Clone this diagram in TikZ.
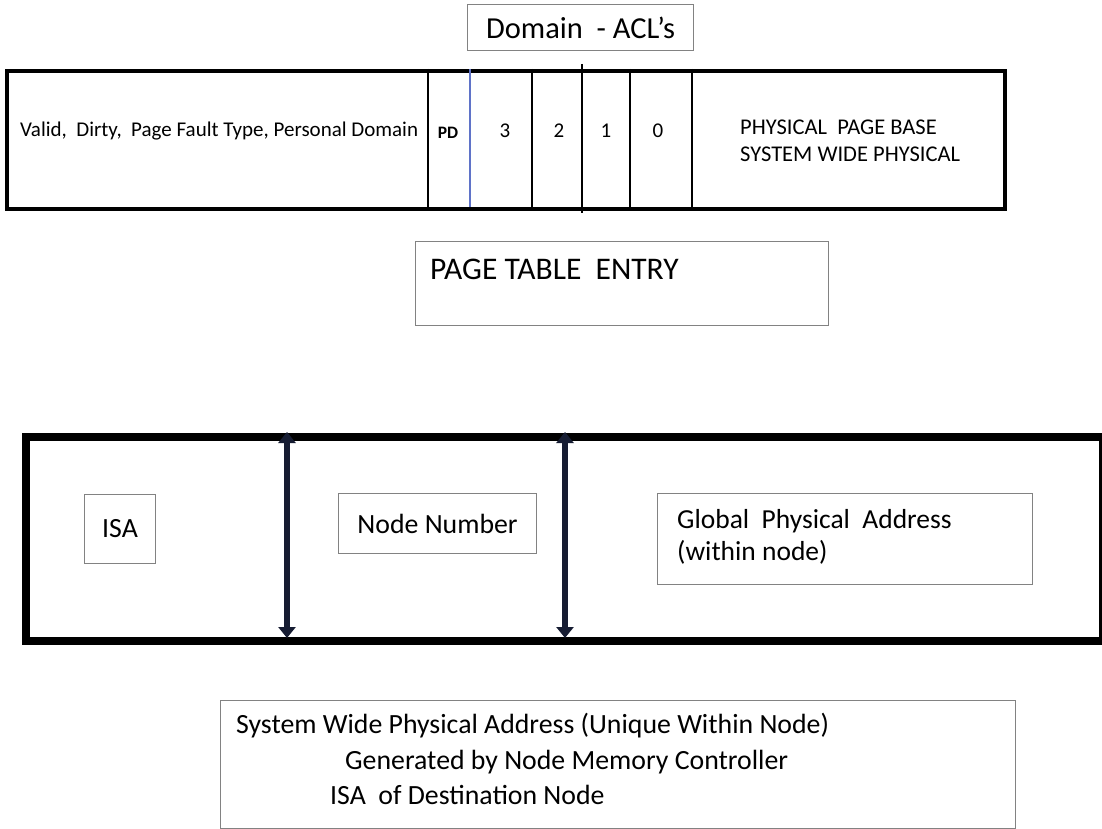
\documentclass[tikz,border=0pt]{standalone}
\usepackage{fontspec}
\setmainfont{Carlito}
\usetikzlibrary{arrows.meta}
\definecolor{navy}{RGB}{22,28,50}
\definecolor{divblue}{RGB}{95,115,200}
\definecolor{boxgray}{RGB}{130,130,130}
\begin{document}
\begin{tikzpicture}[x=1pt,y=-1pt,
  frame/.style={draw=black,line width=4pt,inner sep=0pt,anchor=north west},
  bigframe/.style={draw=black,line width=7.5pt,inner sep=0pt,anchor=north west},
  tbox/.style={draw=boxgray,line width=1.1pt,inner sep=0pt,anchor=north west},
  col/.style={draw=black,line width=1.6pt},
  small/.style={inner sep=0pt,font=\fontsize{21}{25}\selectfont},
  big/.style={inner sep=0pt,font=\fontsize{27.8}{32}\selectfont},
  dbl/.style={draw=navy,line width=6pt,{Triangle[width=17pt,length=11pt]}-{Triangle[width=17pt,length=11pt]},shorten <=-1pt,shorten >=-1pt}
]
\useasboundingbox (0,0) rectangle (1102,829);

% ---- page table entry ----
\node[tbox,minimum width=226pt,minimum height=46pt] (dom) at (467,4) {};
\node[inner sep=0pt,font=\fontsize{30.5}{34}\selectfont] (domt) at (dom.center) {Domain~~- ACL’s};

\node[frame,minimum width=998pt,minimum height=138pt] (pte) at (5,69) {};
\draw[col] (428,69) -- (428,207);
\draw[draw=divblue,line width=1.3pt] (470,69) -- (470,207);
\draw[col] (532,69) -- (532,207);
\draw[col] (582,64) -- (582,213);
\draw[col] (630,69) -- (630,207);
\draw[col] (692,69) -- (692,207);

\node[small,anchor=west] (flags) at (20,131) {Valid,~~Dirty,~~Page Fault Type, Personal Domain};
\node[inner sep=0pt,font=\fontsize{17.5}{20}\selectfont\bfseries] (pd) at (448,133) {PD};
\node[small] (d3) at (505,131) {3};
\node[small] (d2) at (559,131) {2};
\node[small] (d1) at (606,131) {1};
\node[small] (d0) at (658,131) {0};
\node[small,anchor=west,align=left,font=\fontsize{22.5}{27}\selectfont] (ppb) at (740,141) {PHYSICAL~~PAGE BASE\\SYSTEM WIDE PHYSICAL};

\node[tbox,minimum width=413pt,minimum height=84pt] (ptebox) at (415,241) {};
\node[inner sep=0pt,font=\fontsize{31.5}{36}\selectfont,anchor=west] (ptet) at (430,269) {PAGE TABLE~~ENTRY};

% ---- address layout ----
\node[bigframe,minimum width=1077pt,minimum height=204pt] (addr) at (22,433) {};

\coordinate (a1t) at (287,433);
\coordinate (a1b) at (287,637);
\coordinate (a2t) at (565,433);
\coordinate (a2b) at (565,637);
\draw[dbl] (a1t) -- (a1b);
\draw[dbl] (a2t) -- (a2b);

\node[tbox,minimum width=71pt,minimum height=69pt] (isa) at (84,494) {};
\node[big] (isat) at (isa.center) {ISA};

\node[tbox,minimum width=198pt,minimum height=60pt] (nn) at (338,493) {};
\node[big] (nnt) at (nn.center) {Node Number};

\node[tbox,minimum width=375pt,minimum height=91pt] (gpa) at (657,493) {};
\node[big,anchor=west,align=left,font=\fontsize{27.5}{32}\selectfont] (gpat) at (677,537) {Global~~Physical~~Address\\(within node)};

% ---- description ----
\node[tbox,minimum width=795pt,minimum height=128pt] (desc) at (220,700) {};
\node[big,anchor=west] (l1) at (236,726) {System Wide Physical Address (Unique Within Node)};
\node[big,anchor=west] (l2) at (345,762) {Generated by Node Memory Controller};
\node[big,anchor=west] (l3) at (330,795) {ISA~~of Destination Node};
\end{tikzpicture}
\end{document}
